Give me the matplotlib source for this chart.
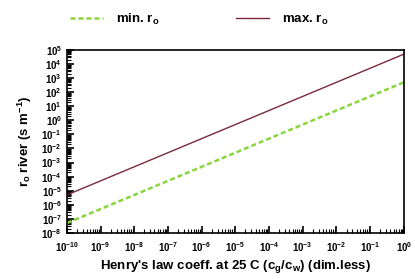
import numpy as np
import matplotlib
matplotlib.use("Agg")
import matplotlib.pyplot as plt
from matplotlib.ticker import FixedLocator, FixedFormatter, LogLocator, NullFormatter

plt.rcParams['font.family'] = 'Liberation Sans'
plt.rcParams['font.weight'] = 'bold'
plt.rcParams['axes.labelweight'] = 'bold'
plt.rcParams['mathtext.fontset'] = 'custom'
plt.rcParams['mathtext.rm'] = 'Liberation Sans:bold'
plt.rcParams['mathtext.it'] = 'Liberation Sans:bold'
plt.rcParams['mathtext.bf'] = 'Liberation Sans:bold'
plt.rcParams['mathtext.default'] = 'rm'

# Henry's law coefficient (dimensionless) and river resistance r_o (s m^-1)
henry = [1e-10, 1e-9, 1e-8, 1e-7, 1e-6, 1e-5, 1e-4, 1e-3, 1e-2, 1e-1, 1e0]
r_min = [5e-8, 5e-7, 5e-6, 5e-5, 5e-4, 5e-3, 5e-2, 5e-1, 5e0, 5e1, 5e2]
r_max = [5e-6, 5e-5, 5e-4, 5e-3, 5e-2, 5e-1, 5e0, 5e1, 5e2, 5e3, 5e4]

x_exp = list(range(-10, 1))
y_exp = list(range(-8, 6))

fig = plt.figure(figsize=(4.15, 2.79), dpi=100)
ax = fig.add_axes([0.161, 0.165, 0.812, 0.656])

l1, = ax.plot(henry, r_min, color='#8ad43c', lw=1.8, ls=(0, (2, 1.2)), label='min. r$_o$')
l2, = ax.plot(henry, r_max, color='#7a2a3a', lw=1.0, label='max. r$_o$')

ax.set_xscale('log')
ax.set_yscale('log')
ax.set_xlim(1e-10, 1)
ax.set_ylim(1e-8, 1e5)

ax.xaxis.set_major_locator(FixedLocator([10.0**e for e in x_exp]))
ax.xaxis.set_major_formatter(FixedFormatter(['$10^{%d}$' % e for e in x_exp]))
ax.yaxis.set_major_locator(FixedLocator([10.0**e for e in y_exp]))
ax.yaxis.set_major_formatter(FixedFormatter(['$10^{%d}$' % e for e in y_exp]))
ax.xaxis.set_minor_locator(LogLocator(base=10, subs=np.arange(2, 10), numticks=50))
ax.yaxis.set_minor_locator(LogLocator(base=10, subs=np.arange(2, 10), numticks=50))
ax.xaxis.set_minor_formatter(NullFormatter())
ax.yaxis.set_minor_formatter(NullFormatter())

ax.tick_params(which='both', direction='in', top=False, right=False, labelsize=7)
ax.tick_params(which='major', length=5, width=1.2)
ax.tick_params(which='minor', length=3, width=0.8)
ax.tick_params(axis='x', pad=5)
for s in ax.spines.values():
    s.set_linewidth(1.2)

ax.set_xlabel("Henry's law coeff. at 25 C (c$_g$/c$_w$) (dim.less)", fontsize=9.5, labelpad=3)
ax.set_ylabel("r$_o$ river (s m$^{-1}$)", fontsize=9.5, labelpad=5)

fig.legend(handles=[l1, l2], loc='upper left', bbox_to_anchor=(0.14, 1.0), ncol=2,
           frameon=False, fontsize=9.5, handlelength=2.5, columnspacing=5.75, handletextpad=1.0)

fig.savefig('out.png', dpi=100)
